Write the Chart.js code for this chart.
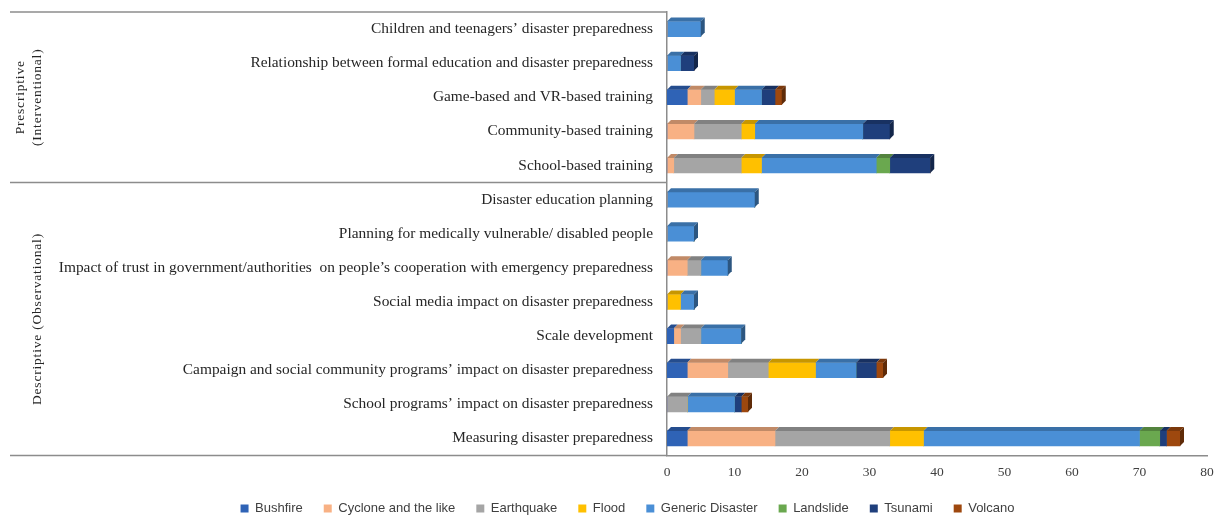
<!DOCTYPE html>
<html>
<head>
<meta charset="utf-8">
<script src="https://cdn.jsdelivr.net/npm/chart.js@4.4.0/dist/chart.umd.min.js"></script>
<style>
  html, body { margin: 0; padding: 0; background: #fff; }
</style>
</head>
<body>
<canvas id="chart" width="1217" height="516"></canvas>
<script>
// Research topics, listed top to bottom
const categories = [
  'Children and teenagers’ disaster preparedness',
  'Relationship between formal education and disaster preparedness',
  'Game-based and VR-based training',
  'Community-based training',
  'School-based training',
  'Disaster education planning',
  'Planning for medically vulnerable/ disabled people',
  'Impact of trust in government/authorities  on people’s cooperation with emergency preparedness',
  'Social media impact on disaster preparedness',
  'Scale development',
  'Campaign and social community programs’ impact on disaster preparedness',
  'School programs’ impact on disaster preparedness',
  'Measuring disaster preparedness'
];

// Study type groups (rotated labels on the left) and how many rows each covers
const groupLabels = [['Prescriptive', '(Interventional)'], ['Descriptive (Observational)']];
const groupRows = [5, 8];

const hazards = ['Bushfire', 'Cyclone and the like', 'Earthquake', 'Flood',
  'Generic Disaster', 'Landslide', 'Tsunami', 'Volcano'];
const hazardColors = ['#2f63b6', '#f8b184', '#a5a5a5', '#ffc000',
  '#4a8fd6', '#6aa84f', '#1f3f7c', '#9e480e'];

// Number of studies per topic and hazard
const bushfire   = [0, 0, 3, 0, 0, 0, 0, 0, 0, 1, 3, 0, 3];
const cyclone    = [0, 0, 2, 4, 1, 0, 0, 3, 0, 1, 6, 0, 13];
const earthquake = [0, 0, 2, 7, 10, 0, 0, 2, 0, 3, 6, 3, 17];
const flood      = [0, 0, 3, 2, 3, 0, 0, 0, 2, 0, 7, 0, 5];
const generic    = [5, 2, 4, 16, 17, 13, 4, 4, 2, 6, 6, 7, 32];
const landslide  = [0, 0, 0, 0, 2, 0, 0, 0, 0, 0, 0, 0, 3];
const tsunami    = [0, 2, 2, 4, 6, 0, 0, 0, 0, 0, 3, 1, 1];
const volcano    = [0, 0, 1, 0, 0, 0, 0, 0, 0, 0, 1, 1, 2];

const seriesValues = [bushfire, cyclone, earthquake, flood, generic, landslide, tsunami, volcano];

const xTicks = [0, 10, 20, 30, 40, 50, 60, 70, 80];

const SERIF = "'Liberation Serif', 'DejaVu Serif', serif";
const LINE = '#8c8c8c';

function shade(hex, f) {
  const n = parseInt(hex.slice(1), 16);
  const r = Math.round(((n >> 16) & 255) * f);
  const g = Math.round(((n >> 8) & 255) * f);
  const b = Math.round((n & 255) * f);
  return `rgb(${r},${g},${b})`;
}

// Gives each stacked segment a shallow top face, and each row's end a side face
const depthPlugin = {
  id: 'depth',
  afterDatasetsDraw(chart) {
    const ctx = chart.ctx;
    const dx = 4, dy = 4;
    ctx.save();
    chart.data.datasets.forEach((ds, i) => {
      const meta = chart.getDatasetMeta(i);
      meta.data.forEach((bar, j) => {
        if (!ds.data[j]) return;
        const {x, y, base, height} = bar.getProps(['x', 'y', 'base', 'height'], true);
        const top = y - height / 2, bottom = y + height / 2;
        ctx.fillStyle = shade(hazardColors[i], 0.78);
        ctx.beginPath();
        ctx.moveTo(base, top);
        ctx.lineTo(x, top);
        ctx.lineTo(x + dx, top - dy);
        ctx.lineTo(base + dx, top - dy);
        ctx.closePath();
        ctx.fill();
        // last non-empty series in this row gets the side face
        let last = -1;
        seriesValues.forEach((vals, k) => { if (vals[j]) last = k; });
        if (last === i) {
          ctx.fillStyle = shade(hazardColors[i], 0.6);
          ctx.beginPath();
          ctx.moveTo(x, top);
          ctx.lineTo(x + dx, top - dy);
          ctx.lineTo(x + dx, bottom - dy);
          ctx.lineTo(x, bottom);
          ctx.closePath();
          ctx.fill();
        }
      });
    });
    ctx.restore();
  }
};

// Table rules on the left and the rotated group names
const framePlugin = {
  id: 'frame',
  afterDraw(chart) {
    const ctx = chart.ctx;
    const area = chart.chartArea;
    const yScale = chart.scales.y;
    const left = 10;
    ctx.save();
    ctx.strokeStyle = LINE;
    ctx.lineWidth = 1.5;
    const rule = (yy) => {
      ctx.beginPath();
      ctx.moveTo(left, yy);
      ctx.lineTo(area.left, yy);
      ctx.stroke();
    };
    rule(area.top);
    rule(area.bottom);

    ctx.fillStyle = '#262626';
    ctx.font = `13.5px ${SERIF}`;
    ctx.letterSpacing = '0.8px';
    ctx.textAlign = 'center';
    ctx.textBaseline = 'middle';
    let start = 0;
    groupRows.forEach((count, g) => {
      const y0 = yScale.getPixelForValue(start - 0.5);
      const y1 = yScale.getPixelForValue(start + count - 0.5);
      if (g > 0) rule(y0);
      const lines = groupLabels[g];
      const cy = (y0 + y1) / 2;
      lines.forEach((txt, k) => {
        const lx = 37 - (lines.length - 1 - k) * 17;
        ctx.save();
        ctx.translate(lx, cy);
        ctx.rotate(-Math.PI / 2);
        ctx.fillText(txt, 0, 0);
        ctx.restore();
      });
      start += count;
    });
    ctx.restore();
  }
};

const datasets = hazards.map((name, i) => ({
  label: name,
  data: seriesValues[i],
  backgroundColor: hazardColors[i],
  borderWidth: 0,
  barThickness: 15
}));

new Chart(document.getElementById('chart'), {
  type: 'bar',
  data: { labels: categories, datasets },
  plugins: [depthPlugin, framePlugin],
  options: {
    indexAxis: 'y',
    responsive: false,
    animation: false,
    devicePixelRatio: 1,
    layout: { padding: { left: 48, right: 10, top: 12, bottom: -9 } },
    scales: {
      x: {
        stacked: true,
        min: xTicks[0],
        max: xTicks[xTicks.length - 1],
        afterBuildTicks(scale) { scale.ticks = xTicks.map(v => ({ value: v })); },
        afterFit(scale) {
          scale.height = 25.5;
          scale.paddingLeft = 0;
          scale.paddingRight = 0;
        },
        grid: { display: false, drawTicks: false },
        border: { display: true, color: LINE, width: 1.5 },
        ticks: { color: '#404040', padding: 9, font: { family: SERIF, size: 13.5 } }
      },
      y: {
        stacked: true,
        afterFit(scale) {
          scale.width = 619;
          scale.paddingTop = 0;
          scale.paddingBottom = 0;
        },
        grid: { display: false, drawTicks: false },
        border: { display: true, color: LINE, width: 1.5 },
        ticks: { color: '#262626', padding: 14, font: { family: SERIF, size: 15.4 } }
      }
    },
    plugins: {
      legend: {
        position: 'bottom',
        labels: {
          boxWidth: 8,
          boxHeight: 8,
          padding: 21,
          color: '#404040',
          font: { family: "'Liberation Sans', Arial, sans-serif", size: 13 }
        }
      },
      tooltip: { enabled: false }
    }
  }
});
</script>
</body>
</html>
